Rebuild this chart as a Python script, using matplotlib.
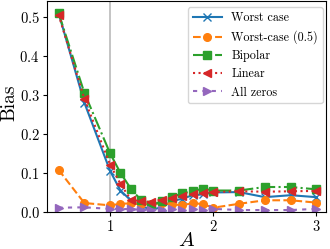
import matplotlib

matplotlib.use('Agg')
import matplotlib.pyplot as plt

plt.rcParams['font.family'] = 'serif'
plt.rcParams['font.serif'] = ['cmr10', 'DejaVu Serif']
plt.rcParams['mathtext.fontset'] = 'cm'
plt.rcParams['axes.formatter.use_mathtext'] = True

# threshold A
A = [0.5, 0.75, 1.0, 1.1, 1.2, 1.3, 1.4, 1.5, 1.6, 1.7, 1.8, 1.9, 2.0, 2.25, 2.5, 2.75, 3.0]

worst_case = [0.51, 0.28, 0.105, 0.055, 0.03, 0.015, 0.006, 0.012, 0.028, 0.034, 0.043, 0.045, 0.05,
              0.051, 0.038, 0.043, 0.038]
worst_case_half = [0.108, 0.023, 0.017, 0.021, 0.022, 0.02, 0.02, 0.022, 0.02, 0.017, 0.023, 0.02, 0.011,
                   0.021, 0.03, 0.03, 0.024]
bipolar = [0.51, 0.305, 0.15, 0.10, 0.06, 0.03, 0.018, 0.027, 0.038, 0.048, 0.053, 0.06, 0.055,
           0.055, 0.064, 0.064, 0.058]
linear = [0.505, 0.29, 0.121, 0.072, 0.032, 0.027, 0.026, 0.032, 0.036, 0.04, 0.045, 0.049, 0.051,
          0.053, 0.052, 0.053, 0.054]
all_zeros = [0.011, 0.012, 0.008, 0.008, 0.007, 0.006, 0.006, 0.006, 0.007, 0.006, 0.007, 0.006, 0.008,
             0.005, 0.005, 0.005, 0.008]

series = [
    ("Worst case", worst_case, '-', 'x'),
    ("Worst-case (0.5)", worst_case_half, '--', 'o'),
    ("Bipolar", bipolar, '-.', 's'),
    ("Linear", linear, ':', '<'),
    ("All zeros", all_zeros, (0, (2, 2.5)), '>'),
]

fig = plt.figure(figsize=(3.3, 2.49), dpi=100)
ax = fig.add_axes([0.1415, 0.1486, 0.8455, 0.847])

ax.axvline(1.0, color='0.75', lw=1.3, zorder=0)

for label, vals, ls, mk in series:
    ax.plot(A, vals, linestyle=ls, marker=mk, lw=1.5, markersize=5.5, label=label)

ax.set_ylim(0, 0.54)
ax.set_xlim(0.385, 3.09)
ax.set_xticks([1, 2, 3])
ax.set_yticks([0.0, 0.1, 0.2, 0.3, 0.4, 0.5])
ax.tick_params(labelsize=10.5, length=3, pad=2)
ax.set_xlabel('$A$', fontsize=15)
ax.set_ylabel('Bias', fontsize=14)
ax.xaxis.set_label_coords(0.5, -0.097)
ax.yaxis.set_label_coords(-0.1, 0.52)

# legend box corner placed in axes coords
ax.legend(loc='upper right', bbox_to_anchor=(0.989, 0.97), borderaxespad=0,
          fontsize=8.7, handlelength=2.4)

fig.savefig('out.png', dpi=100)
